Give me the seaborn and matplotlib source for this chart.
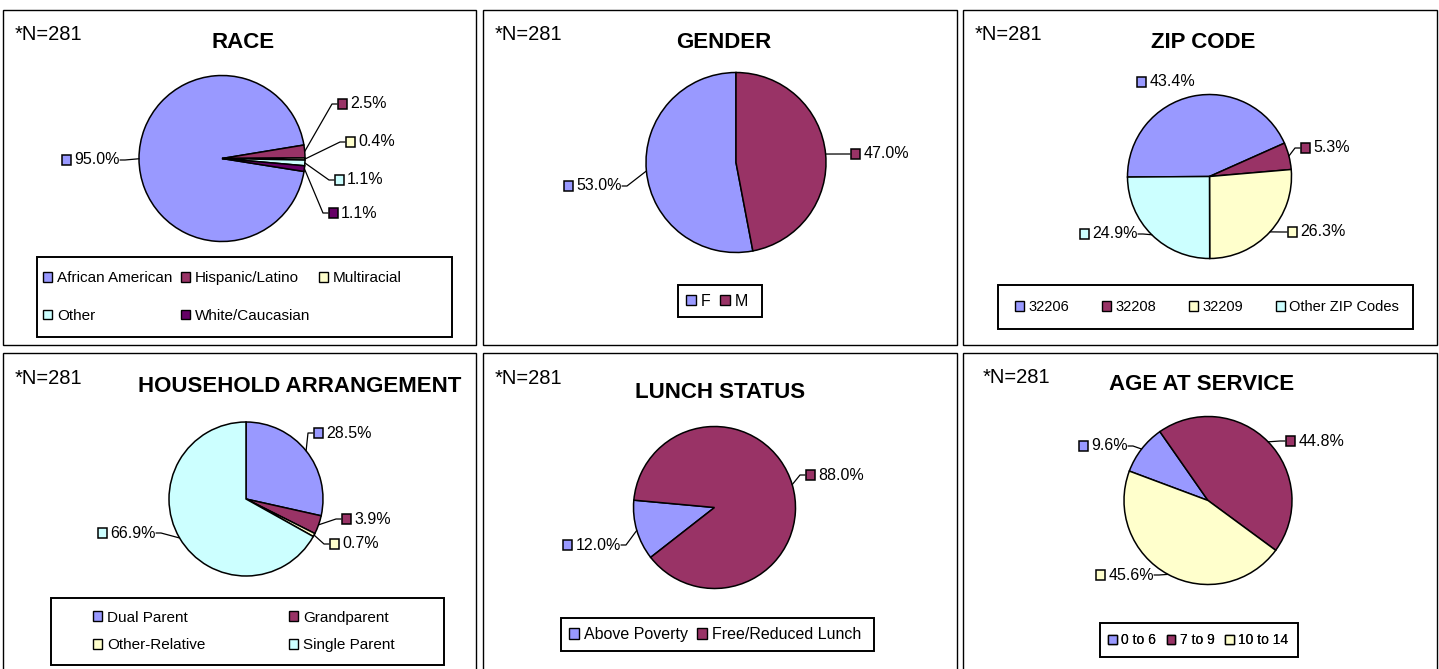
import matplotlib
matplotlib.use('Agg')
import matplotlib.pyplot as plt
import seaborn as sns
import numpy as np
from matplotlib.patches import Rectangle, Patch
from matplotlib.offsetbox import AnnotationBbox, HPacker, TextArea, DrawingArea

# ------------------------------------------------------------------
# Data (percentages as printed on the charts)
# ------------------------------------------------------------------
N_TOTAL = 281

race_labels = ['African American', 'Hispanic/Latino', 'Multiracial', 'Other', 'White/Caucasian']
race_pct = [95.0, 2.5, 0.4, 1.1, 1.1]

gender_labels = ['F', 'M']
gender_pct = [53.0, 47.0]

zip_labels = ['32206', '32208', '32209', 'Other ZIP Codes']
zip_pct = [43.4, 5.3, 26.3, 24.9]

house_labels = ['Dual Parent', 'Grandparent', 'Other-Relative', 'Single Parent']
house_pct = [28.5, 3.9, 0.7, 66.9]

lunch_labels = ['Above Poverty', 'Free/Reduced Lunch']
lunch_pct = [12.0, 88.0]

age_labels = ['0 to 6', '7 to 9', '10 to 14']
age_pct = [9.6, 44.8, 45.6]

# classic Excel chart palette
PALETTE = sns.color_palette(['#9999FF', '#993366', '#FFFFCC', '#CCFFFF', '#660066'])

W, H = 1439, 669

sns.set_style('white')
plt.rcParams['font.family'] = ['Liberation Sans', 'DejaVu Sans']
plt.rcParams['text.color'] = 'black'

fig = plt.figure(figsize=(W / 100, H / 100), dpi=100)
ax = fig.add_axes([0, 0, 1, 1])


def row_major(items, ncol):
    """Reorder so matplotlib's column-wise legend fill reads row by row."""
    nrow = -(-len(items) // ncol)
    return [items[r * ncol + c] for c in range(ncol) for r in range(nrow)
            if r * ncol + c < len(items)]


def draw_panel(p, labels, values):
    # panel border (pixel coords measured from the top)
    x0, y0, x1, y1 = p['box']
    ax.add_patch(Rectangle((x0, H - y1), x1 - x0, y1 - y0, fill=False,
                           edgecolor='black', linewidth=1.0))
    ax.text(p['n_xy'][0], H - p['n_xy'][1], f'*N={N_TOTAL}', ha='left',
            va='baseline', fontsize=14.5, color='black')
    ax.text(p['title_xy'][0], H - p['title_xy'][1], p['title'], ha='center',
            va='baseline', fontsize=16, fontweight='bold', color='black')

    colors = PALETTE[:len(values)]
    cx, cy = p['center'][0], H - p['center'][1]
    r = p['radius']
    wedges, _ = ax.pie(values, colors=colors, startangle=p['start'],
                       counterclock=False, center=(cx, cy), radius=r,
                       wedgeprops=dict(edgecolor='black', linewidth=1.1))

    # outside labels with leader lines
    for w, val, col, (dx, dy, side, lead) in zip(wedges, values, colors, p['labels']):
        mid = np.deg2rad((w.theta1 + w.theta2) / 2)
        rim = (cx + r * np.cos(mid), cy + r * np.sin(mid))
        lx, ly = cx + dx, cy - dy
        da = DrawingArea(7.5, 7.5, 0, 0)
        da.add_artist(Rectangle((0.5, 0.5), 6.6, 6.6, facecolor=col,
                                edgecolor='black', linewidth=1.1))
        ta = TextArea(f'{val:.1f}%', textprops=dict(fontsize=11.5, color='black'))
        pack = HPacker(children=[da, ta], align='center', pad=0, sep=2)
        ab = AnnotationBbox(pack, (lx, ly), xycoords='data',
                            box_alignment=(0 if side == 'R' else 1, 0.5),
                            frameon=False, pad=0)
        ax.add_artist(ab)
        if lead:
            sx = lx - 5 if side == 'R' else lx + 5
            ax.plot([lx, sx, rim[0]], [ly, ly, rim[1]], color='black', linewidth=0.9)

    # legend in a square frame
    lg = p['legend']
    bx0, by0, bx1, by1 = lg['box']
    ax.add_patch(Rectangle((bx0, H - by1), bx1 - bx0, by1 - by0, fill=False,
                           edgecolor='black', linewidth=1.4))
    handles = [Patch(facecolor=c, edgecolor='black', linewidth=1.0) for c in colors]
    leg = ax.legend(row_major(handles, lg['ncol']), row_major(labels, lg['ncol']),
                    loc='center left', bbox_to_anchor=(lg['x'], H - (by0 + by1) / 2),
                    bbox_transform=ax.transData, ncol=lg['ncol'], frameon=False,
                    fontsize=lg['fs'], handlelength=0.62, handleheight=0.62,
                    handletextpad=0.3, columnspacing=lg['cs'],
                    labelspacing=lg.get('ls', 0.5), borderpad=0, borderaxespad=0,
                    labelcolor='black')
    ax.add_artist(leg)


# ------------------------------------------------------------------
# Layout of each panel (pixels from the top-left corner)
# ------------------------------------------------------------------
race_panel = dict(
    box=(3, 10, 476, 345), title='RACE', title_xy=(243, 48), n_xy=(15, 40),
    center=(222, 158.5), radius=83, start=-9,
    labels=[(-102, 1.5, 'L', True), (115, -54.5, 'R', True), (123, -16.5, 'R', True),
            (112, 21.5, 'R', True), (106, 54.5, 'R', True)],
    legend=dict(box=(37, 257, 452, 337), x=43, ncol=3, fs=11, cs=0.55, ls=1.55))

gender_panel = dict(
    box=(483, 10, 957, 345), title='GENDER', title_xy=(724, 48), n_xy=(495, 40),
    center=(736, 162.5), radius=90, start=-79.2,
    labels=[(-114, 23.5, 'L', True), (114, -8.5, 'R', True)],
    legend=dict(box=(678, 285, 762, 317), x=686, ncol=2, fs=11.5, cs=0.6))

zip_panel = dict(
    box=(963, 10, 1437, 345), title='ZIP CODE', title_xy=(1203, 48), n_xy=(975, 40),
    center=(1209.5, 176.5), radius=82, start=180.4,
    labels=[(-73.5, -94.5, 'R', False), (90.5, -28.5, 'R', True),
            (77.5, 55.5, 'R', True), (-71.5, 57.5, 'L', True)],
    legend=dict(box=(998, 285, 1413, 329), x=1015, ncol=4, fs=10.5, cs=2.25))

house_panel = dict(
    box=(3, 353, 476, 672), title='HOUSEHOLD ARRANGEMENT', title_xy=(300, 392),
    n_xy=(15, 384), center=(246, 499), radius=77, start=90,
    labels=[(67, -66, 'R', True), (95, 20, 'R', True), (83, 45, 'R', True),
            (-90, 34, 'L', True)],
    legend=dict(box=(51, 598, 444, 665), x=93, ncol=2, fs=11, cs=5.45, ls=0.9))

lunch_panel = dict(
    box=(483, 353, 957, 672), title='LUNCH STATUS', title_xy=(720, 398),
    n_xy=(495, 384), center=(714.5, 507.5), radius=81, start=218,
    labels=[(-93.5, 37.5, 'L', True), (90.5, -32.5, 'R', True)],
    legend=dict(box=(561, 618, 874, 651), x=569, ncol=2, fs=11.5, cs=0.6))

age_panel = dict(
    box=(963, 353, 1437, 672), title='AGE AT SERVICE', title_xy=(1202, 390),
    n_xy=(983, 383), center=(1208, 500.5), radius=84, start=159.5,
    labels=[(-80, -54.5, 'L', True), (77, -59.5, 'R', True), (-54, 74.5, 'L', True)],
    legend=dict(box=(1100, 623, 1298, 657), x=1108, ncol=3, fs=10, cs=0.8))

draw_panel(race_panel, race_labels, race_pct)
draw_panel(gender_panel, gender_labels, gender_pct)
draw_panel(zip_panel, zip_labels, zip_pct)
draw_panel(house_panel, house_labels, house_pct)
draw_panel(lunch_panel, lunch_labels, lunch_pct)
draw_panel(age_panel, age_labels, age_pct)

ax.set_xlim(0, W)
ax.set_ylim(0, H)
ax.set_aspect('auto')
ax.set_axis_off()

fig.savefig('out.png', dpi=100, facecolor='white')
plt.close(fig)
